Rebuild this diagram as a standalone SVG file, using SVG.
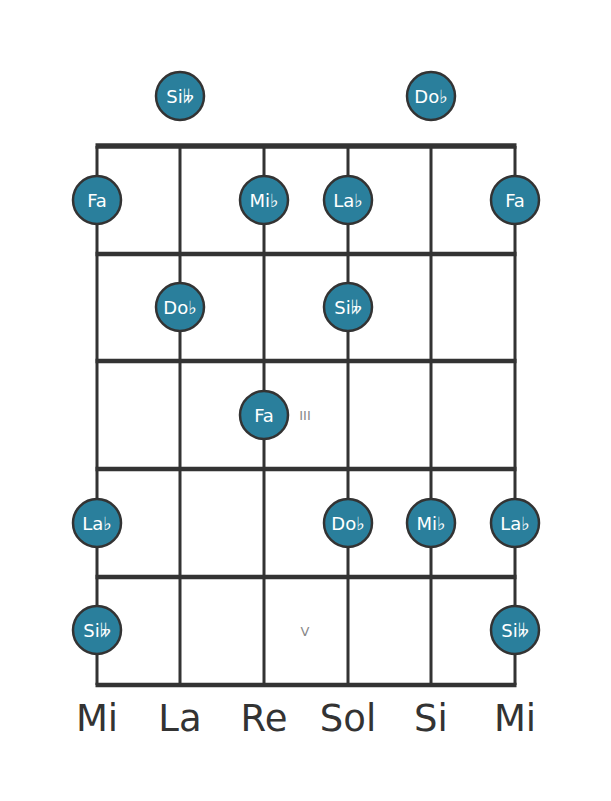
<svg xmlns="http://www.w3.org/2000/svg" width="611" height="801" viewBox="0 0 611 801">
<style>
.str{stroke:#333;stroke-width:3}
.fret{stroke:#333;stroke-width:4.5}
.note circle{fill:#2a7f9c;stroke:#333;stroke-width:2.5}
.note text{fill:#fff;font-family:"DejaVu Sans",sans-serif;font-size:18px;text-anchor:middle;dominant-baseline:central}
.mark{fill:#888;font-family:"DejaVu Sans",sans-serif;font-size:13px;text-anchor:middle;dominant-baseline:central}
.lbl{fill:#333;font-family:"DejaVu Sans",sans-serif;font-size:37px;text-anchor:middle}
</style>
<rect width="611" height="801" fill="#fff"/>
<g id="strings">
<line class="str" x1="97" y1="146" x2="97" y2="685"/>
<line class="str" x1="180" y1="146" x2="180" y2="685"/>
<line class="str" x1="264" y1="146" x2="264" y2="685"/>
<line class="str" x1="348" y1="146" x2="348" y2="685"/>
<line class="str" x1="431" y1="146" x2="431" y2="685"/>
<line class="str" x1="515" y1="146" x2="515" y2="685"/>
</g>
<g id="frets">
<line class="fret" x1="95.5" y1="146" x2="516.5" y2="146" style="stroke-width:5.5"/>
<line class="fret" x1="95.5" y1="254" x2="516.5" y2="254"/>
<line class="fret" x1="95.5" y1="361" x2="516.5" y2="361"/>
<line class="fret" x1="95.5" y1="469" x2="516.5" y2="469"/>
<line class="fret" x1="95.5" y1="577" x2="516.5" y2="577"/>
<line class="fret" x1="95.5" y1="685" x2="516.5" y2="685"/>
</g>
<text class="mark" x="305" y="415">III</text>
<text class="mark" x="305" y="631">V</text>
<g id="n1" class="note"><circle cx="180" cy="96" r="24"/><text x="180" y="96">Si𝄫</text></g>
<g id="n2" class="note"><circle cx="431" cy="96" r="24"/><text x="431" y="96">Do♭</text></g>
<g id="n3" class="note"><circle cx="97" cy="200" r="24"/><text x="97" y="200">Fa</text></g>
<g id="n4" class="note"><circle cx="264" cy="200" r="24"/><text x="264" y="200">Mi♭</text></g>
<g id="n5" class="note"><circle cx="348" cy="200" r="24"/><text x="348" y="200">La♭</text></g>
<g id="n6" class="note"><circle cx="515" cy="200" r="24"/><text x="515" y="200">Fa</text></g>
<g id="n7" class="note"><circle cx="180" cy="307" r="24"/><text x="180" y="307">Do♭</text></g>
<g id="n8" class="note"><circle cx="348" cy="307" r="24"/><text x="348" y="307">Si𝄫</text></g>
<g id="n9" class="note"><circle cx="264" cy="415" r="24"/><text x="264" y="415">Fa</text></g>
<g id="n10" class="note"><circle cx="97" cy="523" r="24"/><text x="97" y="523">La♭</text></g>
<g id="n11" class="note"><circle cx="348" cy="523" r="24"/><text x="348" y="523">Do♭</text></g>
<g id="n12" class="note"><circle cx="431" cy="523" r="24"/><text x="431" y="523">Mi♭</text></g>
<g id="n13" class="note"><circle cx="515" cy="523" r="24"/><text x="515" y="523">La♭</text></g>
<g id="n14" class="note"><circle cx="97" cy="630" r="24"/><text x="97" y="630">Si𝄫</text></g>
<g id="n15" class="note"><circle cx="515" cy="630" r="24"/><text x="515" y="630">Si𝄫</text></g>
<g id="labels">
<text class="lbl" x="97" y="731">Mi</text>
<text class="lbl" x="180" y="731">La</text>
<text class="lbl" x="264" y="731">Re</text>
<text class="lbl" x="348" y="731">Sol</text>
<text class="lbl" x="431" y="731">Si</text>
<text class="lbl" x="515" y="731">Mi</text>
</g>
</svg>
